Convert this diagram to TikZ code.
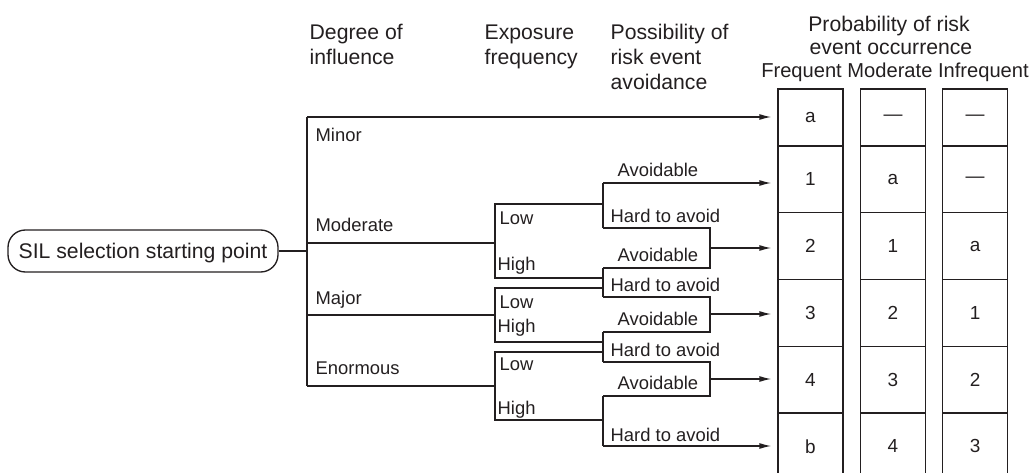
\documentclass[tikz,border=0pt]{standalone}
\usepackage{fontspec}
\setmainfont{Liberation Sans}
\usetikzlibrary{arrows.meta}
\definecolor{ink}{HTML}{231F20}

\begin{document}
\begin{tikzpicture}[>={Latex[length=9pt,width=4.5pt]}, x=0.75pt, y=-0.75pt, color=ink, line width=1pt,
  lab/.style={anchor=base west, inner sep=0, font=\fontsize{13.8}{16}\selectfont},
  head/.style={anchor=base west, inner sep=0, font=\fontsize{15.9}{19}\selectfont},
  cell/.style={draw, minimum width=48.75pt, inner sep=0, font=\fontsize{14.2}{16}\selectfont},
  tip/.style={->, shorten >=4.5pt}]

\useasboundingbox (0,0) rectangle (1034,473);

% column headings
\node[head] (deg1) at (309,40) {Degree of};
\node[head] (deg2) at (309,65) {influence};
\node[head] (exp1) at (484,40) {Exposure};
\node[head] (exp2) at (484,65) {frequency};
\node[head] (pos1) at (610,40) {Possibility of};
\node[head] (pos2) at (610,65) {risk event};
\node[head] (pos3) at (610,90) {avoidance};
\node[head, anchor=base] (prob1) at (889,32) {Probability of risk};
\node[head, anchor=base] (prob2) at (891,55) {event occurrence};
\node[head, anchor=base, font=\fontsize{15.1}{18}\selectfont] (prob3) at (895,78) {Frequent Moderate Infrequent};

% result table
\foreach \r/\yc/\h/\fa/\fb/\fc in {1/117.5/57/a/—/—, 2/179.4/66.75/1/a/—, 3/246.1/66.75/2/1/a,
    4/312.9/66.75/3/2/1, 5/379.6/66.75/4/3/2, 6/446.4/66.75/b/4/3} {
  \node[cell, minimum height=\h*0.75pt] (f\r) at (810.5,\yc) {\fa};
  \node[cell, minimum height=\h*0.75pt] (m\r) at (893,\yc) {\fb};
  \node[cell, minimum height=\h*0.75pt] (i\r) at (975,\yc) {\fc};
}

% starting point and trunk
\node[draw, rounded corners=13pt, minimum width=202.5pt, minimum height=31.5pt, inner sep=0,
  text depth=0pt, font=\fontsize{15.9}{19}\selectfont] (start) at (143,251) {SIL selection starting point};
\coordinate (t0) at (307,251);
\coordinate (tmin) at (307,117);
\coordinate (tenm) at (307,386);
\draw (start.east) -- (t0);
\draw (tmin) -- (tenm);
\draw[tip] (tmin) -- (tmin -| f1.west);

\node[lab] (minor) at (315,142) {Minor};
\node[lab] (moder) at (315,232) {Moderate};
\node[lab] (major) at (315,305) {Major};
\node[lab] (enorm) at (315,375) {Enormous};

% exposure frequency branches
\foreach \n/\ym/\yt/\yb/\yl/\yh in {mod/243/204/278/225/271, maj/315/288/342/309/333, enm/386/352/420/371/415} {
  \coordinate (\n) at (307,\ym);
  \coordinate (lo\n) at (603,\yt);
  \coordinate (hi\n) at (603,\yb);
  \draw (\n) -- (495,\ym);
  \draw (lo\n) -- (495,\yt) -- (495,\yb) -- (hi\n);
  \node[lab] (low\n) at (499,\yl) {Low};
  \node[lab] (high\n) at (497,\yh) {High};
}

% avoidance branches
\foreach \k/\ya/\yh in {1/183/228, 2/268/297, 3/332/362, 4/396/446} {
  \coordinate (av\k) at (603,\ya);
  \coordinate (hd\k) at (603,\yh);
  \draw (av\k) -- (hd\k);
  \node[lab] (avoid\k) at (617,\ya-6) {Avoidable};
  \node[lab] (hard\k) at (610,\yh-5) {Hard to avoid};
}
\draw[tip] (av1) -- (av1 -| f2.west);
\draw[tip] (hd4) -- (hd4 -| f6.west);

% merged outcomes
\foreach \k/\yj/\r [count=\n from 2] in {1/248/3, 2/314/4, 3/379/5} {
  \coordinate (j\k) at (710,\yj);
  \draw (hd\k) -| (j\k) |- (av\n);
  \draw[tip] (j\k) -- (j\k -| f\r.west);
}

\end{tikzpicture}
\end{document}
